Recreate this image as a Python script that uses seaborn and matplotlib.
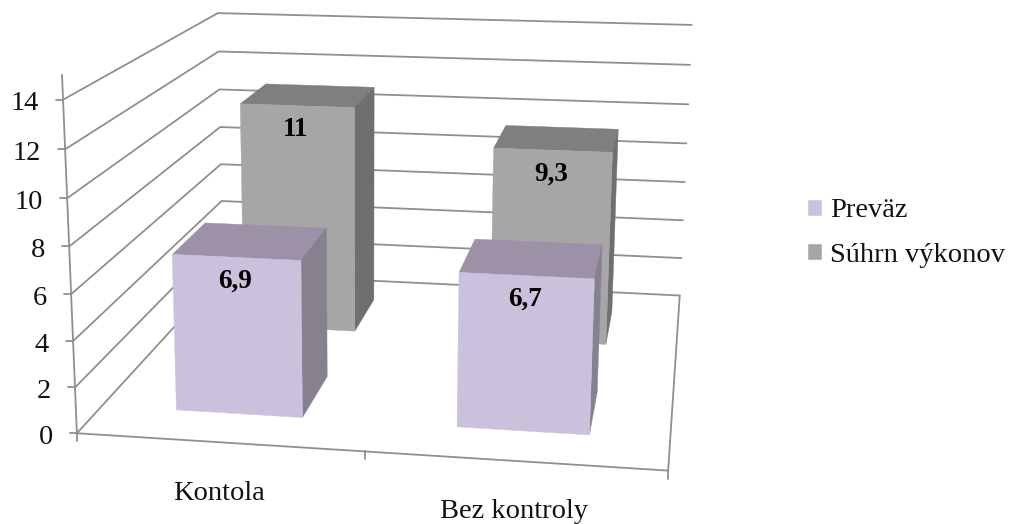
import numpy as np
import pandas as pd
import matplotlib
matplotlib.use("Agg")
import matplotlib.pyplot as plt
from matplotlib.patches import Patch, Polygon
import seaborn as sns

# Chart data
categories = ["Kontola", "Bez kontroly"]
series_names = ["Preväz", "Súhrn výkonov"]
prevaz = [6.9, 6.7]
suhrn = [11.0, 9.3]
value_labels_prevaz = ["6,9", "6,7"]
value_labels_suhrn = ["11", "9,3"]
value_ticks = [0, 2, 4, 6, 8, 10, 12, 14]

W, H = 1013, 524
BAR_WIDTH = 0.455
DEPTH_SLOTS = [(0.14, 0.36), (0.64, 0.86)]

# Camera calibration: scene point (category, depth, value) -> canvas pixel
calibration = [
    ((0, 0, 0), (78, 433)), ((2, 0, 0), (668, 471)), ((2, 1, 0), (680, 295)),
    ((0, 1, 0), (222, 274)), ((0, 0, 14), (62, 100)), ((0, 1, 14), (219, 13)),
    ((2, 1, 14), (691.5, 25)), ((1, 0, 0), (365, 451.5)),
    ((0, 1, 8), (220, 127)), ((2, 1, 8), (686.5, 143.5)), ((0, 0, 8), (69, 246)),
]


def fit_camera(pairs):
    rows, rhs = [], []
    for (x, d, v), (u, w) in pairs:
        rows.append([x, d, v, 1, 0, 0, 0, 0, -u * x, -u * d, -u * v])
        rhs.append(u)
        rows.append([0, 0, 0, 0, x, d, v, 1, -w * x, -w * d, -w * v])
        rhs.append(w)
    sol = np.linalg.lstsq(np.array(rows, float), np.array(rhs, float), rcond=None)[0]
    return np.append(sol, 1.0).reshape(3, 4)


CAMERA = fit_camera(calibration)


def project(x, d, v):
    p = CAMERA @ np.array([x, d, v, 1.0])
    return p[0] / p[2], p[1] / p[2]


sns.set_theme(style="white")
plt.rcParams["font.family"] = ["Liberation Serif", "DejaVu Sans"]
FONT = 20.5
VALUE_FONT = 19.5
GRID = "#8f8f8f"

fig = plt.figure(figsize=(W / 100, H / 100), dpi=100)
ax = fig.add_axes([0, 0, 1, 1])

# Wall gridlines: front-left -> back-left -> back-right
rows = []
for tick in value_ticks:
    for order, (x, d) in enumerate([(0, 0), (0, 1), (2, 1)]):
        px, py = project(x, d, tick)
        rows.append({"tick": tick, "order": order, "px": px, "py": py})
grid = pd.DataFrame(rows)
sns.lineplot(data=grid, x="px", y="py", units="tick", estimator=None, sort=False,
             color=GRID, linewidth=1.3, legend=False, ax=ax, zorder=1)

# Floor edges and value axis
floor_lines = [((0, 0, 0), (2, 0, 0)), ((2, 0, 0), (2, 1, 0)), ((0, 0, 0), (0, 0, 15))]
for a, b in floor_lines:
    pa, pb = project(*a), project(*b)
    ax.plot([pa[0], pb[0]], [pa[1], pb[1]], color=GRID, lw=1.3, zorder=1)
px0, py0 = project(0, 0, 0)
ax.plot([px0, px0], [py0, py0 + 8], color=GRID, lw=1.3, zorder=1)

# Value ticks and labels
for tick in value_ticks:
    px, py = project(0, 0, tick)
    ax.plot([px - 7, px], [py, py], color=GRID, lw=1.3, zorder=1)
    ax.annotate(str(tick), (px, py), xytext=(-24, -1), textcoords="offset pixels",
                ha="right", va="center_baseline", fontsize=FONT, color="#111111")

# Category ticks and labels
for edge in (1, 2):
    px, py = project(edge, 0, 0)
    ax.plot([px, px], [py, py + 8], color=GRID, lw=1.3, zorder=1)
for i, name in enumerate(categories):
    px, py = project(i + 0.5, 0, 0)
    ax.annotate(name, (px, py), xytext=(0, -51), textcoords="offset pixels",
                ha="center", va="center", fontsize=FONT, color="#111111")


def draw_bar(center, slot, value, front, top, side, label, z):
    x0, x1 = center - BAR_WIDTH / 2, center + BAR_WIDTH / 2
    d0, d1 = slot
    faces = [
        ([(x0, d0, value), (x1, d0, value), (x1, d1, value), (x0, d1, value)], top),
        ([(x1, d0, 0), (x1, d1, 0), (x1, d1, value), (x1, d0, value)], side),
        ([(x0, d0, 0), (x1, d0, 0), (x1, d0, value), (x0, d0, value)], front),
    ]
    for corners, colour in faces:
        ax.add_patch(Polygon([project(*c) for c in corners], closed=True,
                             facecolor=colour, edgecolor=colour, lw=0.3, zorder=z))
    ax.annotate(label, project(center, d0, value), xytext=(-1.5, -24), textcoords="offset pixels",
                ha="center", va="center", fontsize=VALUE_FONT, fontweight="bold",
                color="black", zorder=z + 0.5)


suhrn_colours = ("#a6a6a6", "#7f7f7f", "#6f6f6f")
prevaz_colours = ("#cbc1dc", "#9c91a7", "#86808f")
for i in range(len(categories)):
    draw_bar(i + 0.5, DEPTH_SLOTS[1], suhrn[i], *suhrn_colours, value_labels_suhrn[i], 3 + i)
for i in range(len(categories)):
    draw_bar(i + 0.5, DEPTH_SLOTS[0], prevaz[i], *prevaz_colours, value_labels_prevaz[i], 6 + i)

# Legend
handles = [Patch(facecolor=prevaz_colours[0], label=series_names[0]),
           Patch(facecolor=suhrn_colours[0], label=series_names[1])]
ax.legend(handles=handles, loc="center left", bbox_to_anchor=(807, 233),
          bbox_transform=ax.transData, frameon=False, fontsize=FONT,
          borderpad=0, borderaxespad=0,
          handlelength=0.53, handleheight=0.53, handletextpad=0.28, labelspacing=0.68,
          labelcolor="#111111")

ax.set_xlim(0, W)
ax.set_ylim(H, 0)
ax.set_axis_off()
fig.savefig("out.png", dpi=100, facecolor="white")
